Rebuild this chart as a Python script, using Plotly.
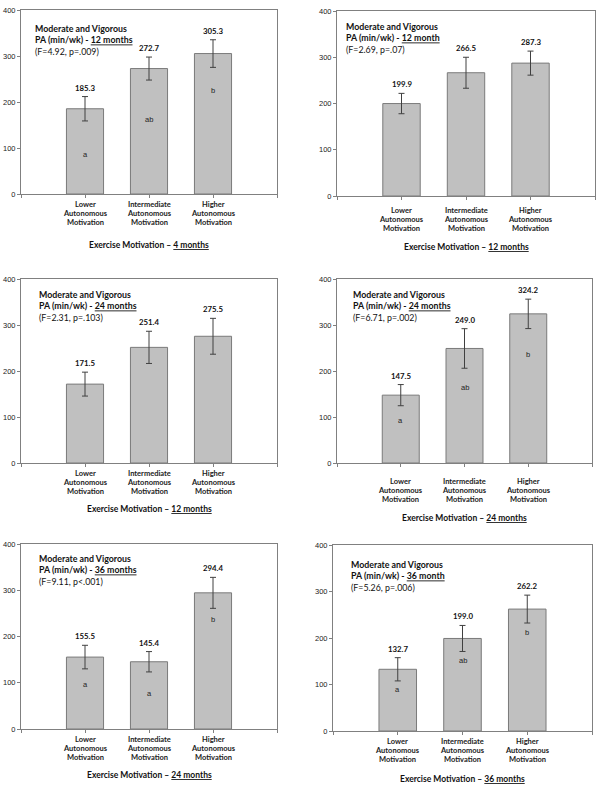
import plotly.graph_objects as go

categories = ["Lower<br>Autonomous<br>Motivation",
              "Intermediate<br>Autonomous<br>Motivation",
              "Higher<br>Autonomous<br>Motivation"]

p1_vals = [185.3, 272.7, 305.3]
p1_err = [26.5, 25, 30]
p1_letters = ["a", "ab", "b"]
p1_letter_y = [85, 163, 226]

p2_vals = [199.9, 266.5, 287.3]
p2_err = [22, 33.5, 26]
p2_letters = ["", "", ""]
p2_letter_y = [0, 0, 0]

p3_vals = [171.5, 251.4, 275.5]
p3_err = [26, 35, 39]
p3_letters = ["", "", ""]
p3_letter_y = [0, 0, 0]

p4_vals = [147.5, 249.0, 324.2]
p4_err = [23, 43, 32]
p4_letters = ["a", "ab", "b"]
p4_letter_y = [93, 164, 235]

p5_vals = [155.5, 145.4, 294.4]
p5_err = [25.5, 22, 33.5]
p5_letters = ["a", "a", "b"]
p5_letter_y = [96, 77, 236]

p6_vals = [132.7, 199.0, 262.2]
p6_err = [25, 28, 30]
p6_letters = ["a", "ab", "b"]
p6_letter_y = [89, 151, 212]

titles_outcome = ["12 months", "12 month", "24 months", "24 months", "36 months", "36 month"]
stats = ["(F=4.92, p=.009)", "(F=2.69, p=.07)", "(F=2.31, p=.103)",
         "(F=6.71, p=.002)", "(F=9.11, p<.001)", "(F=5.26, p=.006)"]
motivation_time = ["4 months", "12 months", "12 months", "24 months", "24 months", "36 months"]

y_ticks = [0, 100, 200, 300, 400]

panels = [
    (p1_vals, p1_err, p1_letters, p1_letter_y),
    (p2_vals, p2_err, p2_letters, p2_letter_y),
    (p3_vals, p3_err, p3_letters, p3_letter_y),
    (p4_vals, p4_err, p4_letters, p4_letter_y),
    (p5_vals, p5_err, p5_letters, p5_letter_y),
    (p6_vals, p6_err, p6_letters, p6_letter_y),
]

W, H = 600, 787
# pixel boxes: (left, right, top, bottom)
boxes = [(21, 277, 10, 194), (337, 595, 11, 196),
         (21, 277, 279, 463), (337, 592, 279, 463),
         (21, 277, 544, 729), (333, 592, 545, 731)]
title_dx = [12, 7, 16, 14, 16, 16]
title_dy = [11, 8, 8, 8, 7, 12]
xtitle_y = [245, 247, 509, 518, 775, 779]
catlab_dy = [11, 14.7, 10.7, 18, 10.3, 10.3]
LINE = 9

FONT = "Lato"
GRID = "#808080"

fig = go.Figure()
annotations = []
for i, ((vals, err, letters, ly), (l, r, t, b)) in enumerate(zip(panels, boxes)):
    n = i + 1
    xa = "x" if n == 1 else f"x{n}"
    ya = "y" if n == 1 else f"y{n}"
    xpos = [1, 2, 3]
    fig.add_trace(go.Bar(
        x=xpos, y=vals, width=0.58,
        marker=dict(color="#C0C0C0", line=dict(color="#7a7a7a", width=1)),
        error_y=dict(type="data", array=err, visible=True, color="#404040",
                     thickness=1, width=3),
        xaxis=xa, yaxis=ya, showlegend=False, hoverinfo="skip"))
    fig.update_layout(**{
        ("xaxis" if n == 1 else f"xaxis{n}"): dict(
            domain=[l / W, r / W], range=[0, 4], anchor=ya,
            tickvals=[0, 1, 2, 3, 4], showticklabels=False,
            ticks="outside", ticklen=3, tickcolor=GRID, automargin=False,
            showline=True, linecolor=GRID, linewidth=1, mirror=True,
            showgrid=False, zeroline=False),
        ("yaxis" if n == 1 else f"yaxis{n}"): dict(
            domain=[1 - b / H, 1 - t / H], range=[0, 400], anchor=xa,
            tickvals=y_ticks, ticks="outside", ticklen=3, tickcolor=GRID,
            showline=True, linecolor=GRID, linewidth=1, mirror=True,
            showgrid=False, zeroline=False, automargin=False,
            tickfont=dict(family="Liberation Sans", size=7.5, color="#222")),
    })
    xd = f"{xa} domain"
    yd = f"{ya} domain"
    annotations.append(dict(
        xref=xd, yref=yd, x=title_dx[i] / (r - l), y=1, yshift=-title_dy[i],
        xanchor="left", yanchor="top", align="left", showarrow=False,
        text=(f"<b>Moderate and Vigorous<br>PA (min/wk) - <u>{titles_outcome[i]}</u></b>"
              f"<br>{stats[i]}"),
        font=dict(family=FONT, size=8.8, color="#111")))
    annotations.append(dict(
        xref=xd, yref=yd, x=0.5, y=0, yshift=-(xtitle_y[i] - b),
        xanchor="center", yanchor="middle", showarrow=False,
        text=f"<b>Exercise Motivation – <u>{motivation_time[i]}</u></b>",
        font=dict(family=FONT, size=8.5, color="#111")))
    for k in range(3):
        for j, line in enumerate(categories[k].split("<br>")):
            annotations.append(dict(
                xref=xa, yref=yd, x=xpos[k], y=0,
                yshift=-(catlab_dy[i] + j * LINE),
                xanchor="center", yanchor="middle", showarrow=False,
                text=f"<b>{line}</b>",
                font=dict(family=FONT, size=7.5, color="#222")))
        annotations.append(dict(
            xref=xa, yref=ya, x=xpos[k], y=vals[k] + err[k], yshift=2,
            xanchor="center", yanchor="bottom", showarrow=False,
            text=f"<b>{vals[k]:.1f}</b>",
            font=dict(family=FONT, size=7.8, color="#111")))
        if letters[k]:
            annotations.append(dict(
                xref=xa, yref=ya, x=xpos[k], y=ly[k],
                xanchor="center", yanchor="middle", showarrow=False,
                text=letters[k],
                font=dict(family="Liberation Sans", size=7.5, color="#222")))

fig.update_layout(width=W, height=H, margin=dict(l=0, r=0, t=0, b=0),
                  paper_bgcolor="white", plot_bgcolor="white",
                  annotations=annotations, bargap=0.4)
fig.write_html("out.html", config={"displayModeBar": False},
               post_script="document.body.style.margin='0';"
                           "document.body.style.overflow='hidden';")
